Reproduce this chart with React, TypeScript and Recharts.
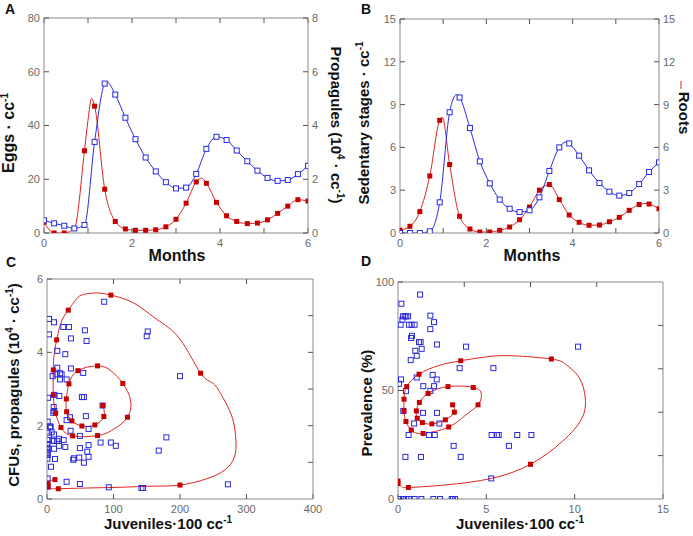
import { ComposedChart, Line, Scatter, XAxis, YAxis } from 'recharts';

const FONT = '"Liberation Sans", Arial, sans-serif';
const RED = '#e02424';
const RED_MARK = '#c40000';
const BLUE = '#2a2ae0';

// weekly sampling points (months)
const weeks = [0, 0.23, 0.46, 0.69, 0.92, 1.15, 1.38, 1.62, 1.85, 2.08, 2.31, 2.54, 2.77, 3.0, 3.23, 3.46, 3.69, 3.92, 4.15, 4.38, 4.62, 4.85, 5.08, 5.31, 5.54, 5.77, 6.0];

// panel A
const eggs = [4, 0, 0, 1.7, 30.6, 47.2, 16.3, 4.3, 1.5, 1.0, 1.0, 1.2, 2.3, 5.1, 11.1, 19.0, 18.5, 11.4, 6.4, 4.3, 3.5, 3.7, 4.9, 7.3, 10.0, 12.4, 11.9];
const propagules = [0.47, 0.36, 0.27, 0.17, 0.3, 3.39, 5.56, 5.15, 4.29, 3.49, 2.81, 2.29, 1.89, 1.66, 1.69, 2.2, 3.13, 3.58, 3.46, 3.07, 2.67, 2.32, 2.05, 1.94, 1.97, 2.19, 2.5];
const eggsCurve: [number, number][] = [[1.0, 42], [1.08, 50], [3.58, 20.4]];
const propagulesCurve: [number, number][] = [[1.43, 5.62]];

// panel B
const stagesRoots = [0.2, 0.47, 1.5, 4.0, 7.9, 4.8, 1.17, 0.28, 0.07, 0.07, 0.19, 0.42, 0.93, 1.82, 3.0, 3.4, 2.34, 1.26, 0.75, 0.54, 0.56, 0.79, 1.1, 1.59, 2.0, 2.03, 1.7];
const stagesSoil = [0, 0, 0, 0.12, 2.15, 8.46, 9.5, 7.36, 5.02, 3.48, 2.34, 1.7, 1.47, 1.59, 2.5, 4.35, 6.0, 6.28, 5.42, 4.39, 3.5, 2.9, 2.62, 2.8, 3.43, 4.28, 4.95];
const stagesRootsCurve: [number, number][] = [[0.98, 8.1], [5.7, 2.07]];
const stagesSoilCurve: [number, number][] = [[1.31, 9.7], [3.87, 6.4]];

// panel C: model trajectory [juveniles, propagules, marker]
const spiralC: [number, number, number][] = [
  [12, 0.53, 1], [3, 0.49, 0], [1.5, 0.42, 1], [1.5, 0.33, 1], [5, 0.29, 0], [17, 0.28, 1],
  [60, 0.3, 0], [110, 0.32, 0], [160, 0.35, 0], [200, 0.38, 1], [240, 0.55, 0], [268, 0.8, 0],
  [282, 1.15, 0], [284, 1.6, 0], [279, 2.2, 0], [265, 2.75, 0], [250, 3.15, 0], [231, 3.43, 1],
  [200, 4.36, 0], [165, 4.9, 0], [130, 5.35, 0], [96, 5.56, 1], [75, 5.62, 0], [55, 5.58, 0],
  [44, 5.45, 0], [32, 5.15, 1], [22, 4.85, 0], [14.5, 4.34, 1], [10.5, 3.9, 0], [9.5, 3.52, 1],
  [9.5, 2.84, 1], [13, 2.34, 1], [21, 1.95, 1], [38.5, 1.72, 1], [76, 1.73, 1], [100, 1.9, 0],
  [121, 2.23, 1], [125.5, 2.7, 0], [114, 3.15, 1], [96, 3.5, 0], [76, 3.63, 1], [46.5, 3.5, 1],
  [33, 3.14, 1], [29, 2.73, 1], [29.5, 2.38, 1], [37.5, 2.13, 1], [52.5, 1.99, 1], [72, 2.02, 1],
  [85.5, 2.25, 1], [84, 2.55, 1],
];
const fieldC: [number, number][] = [
  [3, 4.91], [3, 4.49], [10.5, 4.82], [24.5, 4.69], [33, 4.69], [57, 4.6], [59.5, 4.31], [36, 4.38],
  [15.5, 4.04], [27.5, 3.95], [151.5, 4.57], [150, 4.44], [86, 5.38], [15.5, 3.58], [36, 3.56],
  [8.5, 3.35], [14.5, 3.4], [19.5, 3.43], [22, 3.4], [19.5, 3.26], [29.5, 3.26], [54.5, 3.44],
  [200, 3.35], [1.5, 2.76], [11, 2.84], [18.5, 2.81], [52.5, 2.78], [55.5, 2.78], [10, 2.51],
  [11, 2.4], [9.5, 2.35], [83.5, 2.55], [58.5, 2.26], [34.5, 2.23], [29.5, 2.15], [1, 2.11],
  [4.5, 1.98], [5.5, 1.97], [35.5, 1.86], [62.5, 1.91], [1, 1.81], [7, 1.82], [10.5, 1.76],
  [49.5, 1.72], [179.5, 1.68], [2, 1.61], [8, 1.59], [10.5, 1.58], [15.5, 1.58], [18, 1.64],
  [25, 1.61], [96, 1.54], [80.5, 1.54], [103.5, 1.45], [1, 1.4], [10.5, 1.37], [18, 1.45],
  [27.5, 1.42], [62.5, 1.47], [49.5, 1.39], [168, 1.32], [1, 1.29], [1, 1.2], [60.5, 1.29],
  [62.5, 1.15], [48.5, 1.13], [12, 1.09], [40.5, 1.11], [39.5, 1.07], [55.5, 0.99], [6, 0.88],
  [1, 0.56], [29.5, 0.47], [49.5, 0.41], [93, 0.32], [142, 0.3], [144.5, 0.3], [272, 0.4],
  [0.5, 1.5], [0.5, 1.35], [0.5, 1.25], [0.5, 1.1], [1, 0.34],
];

// panel D: model trajectory [juveniles, prevalence, marker]
const spiralD: [number, number, number][] = [
  [0, 9.2, 0], [0, 8.3, 1], [0, 7.1, 1], [0.2, 5.8, 0], [0.59, 5.3, 1], [2.7, 6.5, 0],
  [5.3, 9.5, 0], [7.5, 16, 1], [9.3, 26.5, 0], [10.4, 37, 0], [10.6, 46.5, 0], [10.25, 56, 0],
  [9.5, 62, 0], [8.68, 64.5, 1], [6.5, 66, 0], [5, 65.5, 0], [3.55, 63.7, 1], [2.3, 61.5, 0],
  [1.19, 57.5, 1], [0.49, 51.8, 1], [0.34, 46, 1], [0.34, 40.6, 1], [0.45, 35.7, 1],
  [0.75, 31.8, 1], [1.42, 30.2, 1], [2.87, 33.2, 1], [3.85, 38.8, 0], [4.53, 43.4, 1],
  [4.72, 48.3, 0], [4.26, 51.4, 1], [2.83, 51.8, 1], [1.7, 48.6, 1], [1.21, 44.5, 1],
  [1.04, 40.6, 1], [1.09, 37.2, 1], [1.38, 35.2, 1], [1.92, 34.6, 1], [2.68, 36.5, 1],
  [3.19, 40, 1], [3.09, 43.4, 1],
];
const fieldD: [number, number][] = [
  [1.25, 94.2], [0.19, 90], [0.15, 80.3], [0.25, 82.6], [0.28, 84.2], [0.38, 84.2], [0.47, 84.2],
  [0.57, 84.2], [0.62, 80.3], [0.77, 80.3], [0.94, 80.3], [0.74, 74.2], [0.79, 75.2], [1.83, 84.5],
  [2.04, 81.5], [1.83, 78.3], [1.19, 72.3], [1.28, 72.3], [0.98, 68.3], [1.34, 69.2], [1.06, 66],
  [0.72, 64], [2.21, 71.2], [3.85, 70.2], [10.19, 70.2], [3.49, 60.3], [5.4, 60.3], [1.96, 57.2],
  [2.19, 55.1], [1.06, 56], [0.17, 55.1], [0.06, 53.1], [2.04, 52], [1.43, 52], [0.45, 49.7],
  [1.83, 49.8], [1.42, 39.7], [2.21, 39.7], [0.3, 40.6], [0.91, 34.8], [2.34, 34.8], [0.6, 29.5],
  [1.75, 29.5], [2.08, 29.5], [5.3, 29.5], [5.6, 29.5], [5.7, 29.5], [6.75, 29.5], [7.55, 29.5],
  [3.15, 24.5], [6.28, 24.5], [0.42, 19.4], [1.3, 19.4], [3.55, 19.4], [5.28, 9.5],
  [0.06, 0], [0.28, 0], [0.47, 0], [0.62, 0], [0.94, 0], [1.32, 0], [2.0, 0], [2.38, 0],
  [3.04, 0], [3.11, 0], [3.23, 0],
];

type Pt = { x: number; y: number; m: number };

function timeSeries(values: number[], curve: [number, number][]): Pt[] {
  const pts: Pt[] = weeks.map((x, i) => ({ x, y: values[i], m: 1 }));
  curve.forEach(([x, y]) => pts.push({ x, y, m: 0 }));
  return pts.sort((a, b) => a.x - b.x);
}
const toPts = (rows: [number, number, number][]): Pt[] => rows.map(([x, y, m]) => ({ x, y, m }));
const toField = (rows: [number, number][]) => rows.map(([x, y]) => ({ x, y }));

const redDot = (p: any) =>
  p.payload && p.payload.m ? (
    <rect key={`r${p.index}`} x={p.cx - 2.5} y={p.cy - 2.5} width={5} height={5} fill={RED_MARK} />
  ) : (
    <g key={`r${p.index}`} />
  );
const blueDot = (p: any) =>
  p.payload && p.payload.m ? (
    <rect key={`b${p.index}`} x={p.cx - 2.5} y={p.cy - 2.5} width={5} height={5} fill="#fff" stroke={BLUE} strokeWidth={1} />
  ) : (
    <g key={`b${p.index}`} />
  );
const openSquare = (p: any) => (
  <rect x={p.cx - 2.5} y={p.cy - 2.5} width={5} height={5} fill="none" stroke={BLUE} strokeWidth={1} />
);

const axisLine = { stroke: '#8a8a8a' };
const tickLine = { stroke: '#555' };
const tickStyle = { fontSize: 11, fill: '#6a6a6a', fontFamily: FONT };
const blank = () => '';
const even = (v: number) => (v % 2 === 0 ? String(v) : '');
const common = { axisLine, tickLine, tick: tickStyle, tickSize: -5, interval: 0 as const, allowDataOverflow: true };

const monthTicks = [0, 1, 2, 3, 4, 5, 6];

function PanelA() {
  return (
    <ComposedChart width={346} height={268} margin={{ top: 17, right: 0, bottom: 0, left: 0 }}>
      <XAxis xAxisId="b" type="number" dataKey="x" domain={[0, 6]} ticks={monthTicks} tickFormatter={even} height={35} tickMargin={11} {...common} />
      <XAxis xAxisId="t" orientation="top" type="number" dataKey="x" domain={[0, 6]} ticks={monthTicks} tickFormatter={blank} height={1} {...common} />
      <YAxis yAxisId="l" type="number" domain={[0, 80]} ticks={[0, 20, 40, 60, 80]} width={44} tickMargin={9} {...common} />
      <YAxis yAxisId="r" orientation="right" type="number" domain={[0, 8]} ticks={[0, 2, 4, 6, 8]} width={38} tickMargin={9} {...common} />
      <Line xAxisId="b" yAxisId="l" data={timeSeries(eggs, eggsCurve)} dataKey="y" type="monotone" stroke={RED} strokeWidth={1} dot={redDot} isAnimationActive={false} />
      <Line xAxisId="b" yAxisId="r" data={timeSeries(propagules, propagulesCurve)} dataKey="y" type="monotone" stroke={BLUE} strokeWidth={1} dot={blueDot} isAnimationActive={false} />
    </ComposedChart>
  );
}

function PanelB() {
  return (
    <ComposedChart width={347} height={268} margin={{ top: 18, right: 0, bottom: 0, left: 0 }}>
      <XAxis xAxisId="b" type="number" dataKey="x" domain={[0, 6]} ticks={monthTicks} tickFormatter={even} height={35} tickMargin={11} {...common} />
      <XAxis xAxisId="t" orientation="top" type="number" dataKey="x" domain={[0, 6]} ticks={monthTicks} tickFormatter={blank} height={1} {...common} />
      <YAxis yAxisId="l" type="number" domain={[0, 15]} ticks={[0, 3, 6, 9, 12, 15]} width={54} tickMargin={9} {...common} />
      <YAxis yAxisId="r" orientation="right" type="number" domain={[0, 15]} ticks={[0, 3, 6, 9, 12, 15]} width={34} tickMargin={9} {...common} />
      <Line xAxisId="b" yAxisId="r" data={timeSeries(stagesRoots, stagesRootsCurve)} dataKey="y" type="monotone" stroke={RED} strokeWidth={1} dot={redDot} isAnimationActive={false} />
      <Line xAxisId="b" yAxisId="l" data={timeSeries(stagesSoil, stagesSoilCurve)} dataKey="y" type="monotone" stroke={BLUE} strokeWidth={1} dot={blueDot} isAnimationActive={false} />
    </ComposedChart>
  );
}

function PanelC() {
  return (
    <ComposedChart width={346} height={268} margin={{ top: 10, right: 32, bottom: 0, left: 0 }}>
      <XAxis xAxisId="b" type="number" dataKey="x" domain={[0, 400]} ticks={[0, 100, 200, 300, 400]} height={37} tickMargin={11} {...common} />
      <XAxis xAxisId="t" orientation="top" type="number" dataKey="x" domain={[0, 400]} ticks={[100, 200, 300]} tickFormatter={blank} height={1} {...common} />
      <YAxis yAxisId="l" type="number" dataKey="y" domain={[0, 6]} ticks={[0, 2, 4, 6]} width={47} tickMargin={9} {...common} />
      <YAxis yAxisId="r" orientation="right" type="number" domain={[0, 6]} ticks={[1, 2, 3, 4, 5]} tickFormatter={blank} width={1} {...common} />
      <Scatter xAxisId="b" yAxisId="l" data={toField(fieldC)} dataKey="y" shape={openSquare} isAnimationActive={false} />
      <Line xAxisId="b" yAxisId="l" data={toPts(spiralC)} dataKey="y" type="natural" stroke={RED} strokeWidth={1} dot={redDot} isAnimationActive={false} />
    </ComposedChart>
  );
}

function PanelD() {
  return (
    <ComposedChart width={347} height={268} margin={{ top: 13, right: 29, bottom: 0, left: 0 }}>
      <XAxis xAxisId="b" type="number" dataKey="x" domain={[0, 15]} ticks={[0, 5, 10, 15]} height={37} tickMargin={11} {...common} />
      <XAxis xAxisId="t" orientation="top" type="number" dataKey="x" domain={[0, 15]} ticks={[3.75, 7.5, 11.25]} tickFormatter={blank} height={1} {...common} />
      <YAxis yAxisId="l" type="number" dataKey="y" domain={[0, 100]} ticks={[0, 50, 100]} width={52} tickMargin={9} {...common} />
      <YAxis yAxisId="r" orientation="right" type="number" domain={[0, 100]} ticks={[20, 40, 60, 80]} tickFormatter={blank} width={1} {...common} />
      <Scatter xAxisId="b" yAxisId="l" data={toField(fieldD)} dataKey="y" shape={openSquare} isAnimationActive={false} />
      <Line xAxisId="b" yAxisId="l" data={toPts(spiralD)} dataKey="y" type="natural" stroke={RED} strokeWidth={1} dot={redDot} isAnimationActive={false} />
    </ComposedChart>
  );
}

const titleStyle = { fontFamily: FONT, fontWeight: 700, fontSize: 15, fill: '#111' };

function Sup({ children }: { children: string }) {
  return (
    <>
      <tspan dy={-6} fontSize={10}>{children}</tspan>
      <tspan dy={6}> </tspan>
    </>
  );
}

function Titles() {
  return (
    <svg width={693} height={536} style={{ position: 'absolute', left: 0, top: 0, pointerEvents: 'none' }}>
      <g style={titleStyle}>
        <text x={5} y={14} fontSize={14}>A</text>
        <text x={361} y={14} fontSize={14}>B</text>
        <text x={6} y={267} fontSize={14}>C</text>
        <text x={361} y={266} fontSize={14}>D</text>

        <text x={177} y={261} textAnchor="middle" fontSize={16}>Months</text>
        <text x={532} y={261} textAnchor="middle" fontSize={16}>Months</text>
        <text x={168} y={529} textAnchor="middle">
          Juveniles·100 cc<tspan dy={-6} fontSize={10}>-1</tspan>
        </text>
        <text x={520} y={529} textAnchor="middle">
          Juveniles·100 cc<tspan dy={-6} fontSize={10}>-1</tspan>
        </text>

        <text x={14} y={133} textAnchor="middle" transform="rotate(-90 14 133)" fontSize={16}>
          Eggs  ·  cc<tspan dy={-6} fontSize={10}>-1</tspan>
        </text>
        <text x={331} y={125} textAnchor="middle" transform="rotate(90 331 125)">
          Propagules (10<Sup>4</Sup>· cc<tspan dy={-6} fontSize={10}>-1</tspan><tspan dy={6}>)</tspan>
        </text>
        <text x={369} y={123} textAnchor="middle" transform="rotate(-90 369 123)">
          Sedentary stages · cc<tspan dy={-6} fontSize={10}>-1</tspan>
        </text>
        <text x={679} y={113} textAnchor="middle" transform="rotate(90 679 113)">Roots</text>
        <text x={19} y={385} textAnchor="middle" transform="rotate(-90 19 385)">
          CFUs, propagules (10<Sup>4</Sup>· cc<tspan dy={-6} fontSize={10}>-1</tspan><tspan dy={6}>)</tspan>
        </text>
        <text x={372} y={403} textAnchor="middle" transform="rotate(-90 372 403)">Prevalence (%)</text>
      </g>
      <line x1={681} y1={81} x2={681} y2={89} stroke={RED} strokeWidth={1} />
    </svg>
  );
}

export default function App() {
  return (
    <div style={{ position: 'absolute', left: 0, top: 0, width: 693, height: 536, background: '#fff' }}>
      <div style={{ position: 'absolute', left: 0, top: 0 }}><PanelA /></div>
      <div style={{ position: 'absolute', left: 346, top: 0 }}><PanelB /></div>
      <div style={{ position: 'absolute', left: 0, top: 268 }}><PanelC /></div>
      <div style={{ position: 'absolute', left: 346, top: 268 }}><PanelD /></div>
      <Titles />
    </div>
  );
}
